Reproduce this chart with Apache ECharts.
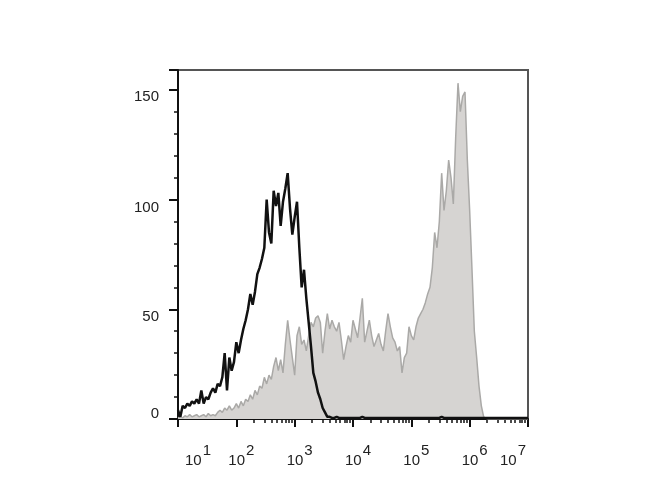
<!DOCTYPE html>
<html>
<head>
<meta charset="utf-8">
<script src="https://cdn.jsdelivr.net/npm/echarts@6/dist/echarts.min.js"></script>
<style>html,body{margin:0;padding:0;background:#fff;}#c{width:670px;height:500px;}</style>
</head>
<body>
<div id="c"></div>
<script>
// Bins: log10 of fluorescence intensity, from 10^1 in steps of 0.04 decades
const binStart = 1;
const binStep = 0.04;

// Isotype control (black line), counts per bin
const isotypeCounts = [
  4, 1, 6, 5, 7, 6, 8, 7, 9, 7,
  13, 7, 10, 9, 12, 14, 12, 16, 15, 19,
  30, 13, 28, 22, 26, 35, 30, 36, 41, 45,
  50, 57, 52, 58, 66, 69, 73, 78, 100, 85,
  80, 104, 97, 103, 88, 99, 105, 112, 96, 84,
  92, 99, 78, 60, 68, 55, 44, 33, 21, 17,
  12, 9, 5, 3, 1, 1, 0.5, 0.5, 1, 0.5,
  0.5, 0.5, 0.5, 0.5, 0.5, 0.5, 0.5, 0.5, 0.5, 1,
  0.5, 0.5, 0.5, 0.5, 0.5, 0.5, 0.5, 0.5, 0.5, 0.5,
  0.5, 0.5, 0.5, 0.5, 0.5, 0.5, 0.5, 0.5, 0.5, 0.5,
  0.5, 0.5, 0.5, 0.5, 0.5, 0.5, 0.5, 0.5, 0.5, 0.5,
  0.5, 0.5, 0.5, 1, 0.5, 0.5, 0.5, 0.5, 0.5, 0.5,
  0.5, 0.5, 0.5, 0.5, 0.5, 0.5, 0.5, 0.5, 0.5, 0.5,
  0.5, 0.5, 0.5, 0.5, 0.5, 0.5, 0.5, 0.5, 0.5, 0.5,
  0.5, 0.5, 0.5, 0.5, 0.5, 0.5, 0.5, 0.5, 0.5, 0.5,
  0.5
];

// Stained sample (grey filled histogram), counts per bin
const stainedCounts = [
  0.5, 1, 0.5, 1.5, 1, 2, 1, 1.5, 2, 1,
  1.5, 2, 1, 2.5, 1.5, 2, 1.5, 3, 4, 3,
  5, 4, 6, 4, 5, 7, 5, 8, 6, 9,
  8, 11, 9, 13, 11, 15, 14, 19, 16, 20,
  18, 24, 28, 22, 27, 21, 34, 45, 36, 28,
  20, 38, 42, 34, 36, 31, 38, 44, 42, 46,
  47, 44, 30, 40, 48, 41, 45, 42, 40, 44,
  36, 27, 33, 38, 35, 45, 41, 37, 46, 55,
  35, 40, 45, 38, 33, 36, 39, 34, 31, 40,
  48, 42, 37, 35, 31, 33, 21, 28, 30, 42,
  38, 36, 42, 46, 48, 50, 53, 57, 60, 69,
  85, 78, 90, 112, 95, 104, 118, 110, 98, 128,
  153, 140, 147, 149, 118, 95, 68, 40, 28, 15,
  6, 1, 0.3, 0, 0, 0, 0, 0, 0, 0,
  0, 0, 0, 0, 0, 0, 0, 0, 0, 0,
  0
];

// Axis tick labels
const xDecades = [1, 2, 3, 4, 5, 6, 7];
const xTickBase = '10';
const yTicks = [0, 50, 100, 150];

// ---- styling / layout ----
const xLabelShift = [20, 5, 5, 5, 5, 5, -15];
const yLabelShift = [-5, 8, 8, 7];

const bins = isotypeCounts.map((_, i) => +(binStart + i * binStep).toFixed(2));
const isoData = bins.map((b, i) => [b, isotypeCounts[i]]);
const stData = bins.map((b, i) => [b, stainedCounts[i]]);

// categories for log minor ticks (0.01 decade resolution)
const minorCats = [];
for (let i = 0; i <= 600; i++) minorCats.push((1 + i / 100).toFixed(2));
const minorSet = new Set();
for (let d = 1; d < 7; d++) {
  for (let k = 2; k <= 9; k++) {
    minorSet.add(Math.round((d + Math.log10(k)) * 100));
  }
}

const xRich = {};
xDecades.forEach((d, i) => {
  const s = xLabelShift[i];
  xRich['b' + i] = {
    fontSize: 15, fontFamily: 'Liberation Sans', color: '#222',
    lineHeight: 25, verticalAlign: 'bottom',
    padding: [0, 0, 0, s > 0 ? 2 * s : 0]
  };
  xRich['s' + i] = {
    fontSize: 15, fontFamily: 'Liberation Sans', color: '#222',
    lineHeight: 15, verticalAlign: 'top',
    padding: [0, s < 0 ? -2 * s : 0, 0, 1]
  };
});
const yRich = {};
yTicks.forEach((t, i) => {
  const s = yLabelShift[i];
  yRich['y' + i] = {
    fontSize: 15, fontFamily: 'Liberation Sans', color: '#222', lineHeight: 17,
    padding: [s > 0 ? 2 * s : 0, 0, s < 0 ? -2 * s : 0, 0]
  };
});

const chart = echarts.init(document.getElementById('c'), null, {renderer: 'canvas'});
chart.setOption({
  animation: false,
  backgroundColor: '#ffffff',
  grid: {
    left: 178, right: 142, top: 70, bottom: 81,
    show: true, borderColor: '#555', borderWidth: 2, backgroundColor: 'transparent'
  },
  xAxis: [
    {
      type: 'value', min: 1, max: 7, interval: 1, position: 'bottom',
      axisLine: {show: true, lineStyle: {color: '#111', width: 2}},
      axisTick: {show: true, length: 8, inside: false, lineStyle: {color: '#111', width: 2}},
      splitLine: {show: false},
      axisLabel: {
        margin: 24,
        formatter: function (v) {
          const i = xDecades.indexOf(Math.round(v));
          if (i < 0) return '';
          return '{b' + i + '|' + xTickBase + '}{s' + i + '|' + xDecades[i] + '}';
        },
        rich: xRich
      }
    },
    {
      type: 'category', data: minorCats, boundaryGap: false, position: 'bottom',
      axisLine: {show: false},
      axisTick: {
        show: true, length: 4, inside: false,
        lineStyle: {color: '#111', width: 1.5},
        interval: function (idx) { return minorSet.has(idx); }
      },
      axisLabel: {show: false},
      splitLine: {show: false}
    }
  ],
  yAxis: {
    type: 'value', min: 0, max: 159, interval: 50,
    axisLine: {show: true, lineStyle: {color: '#111', width: 2}},
    axisTick: {show: true, length: 9, inside: false, lineStyle: {color: '#111', width: 2}},
    minorTick: {show: true, splitNumber: 5, length: 4, lineStyle: {color: '#111', width: 1.5}},
    splitLine: {show: false},
    axisLabel: {
      margin: 19,
      formatter: function (v) {
        const i = yTicks.indexOf(v);
        return i >= 0 ? '{y' + i + '|' + v + '}' : '';
      },
      rich: yRich
    }
  },
  series: [
    {
      type: 'line', data: stData, xAxisIndex: 0, yAxisIndex: 0,
      showSymbol: false, smooth: false,
      lineStyle: {color: '#aaa9a7', width: 1.5},
      areaStyle: {color: '#d6d4d2', opacity: 1},
      z: 2
    },
    {
      type: 'line', data: isoData, xAxisIndex: 0, yAxisIndex: 0,
      showSymbol: false, smooth: false,
      lineStyle: {color: '#111', width: 2.5},
      z: 3
    }
  ]
});
</script>
</body>
</html>
